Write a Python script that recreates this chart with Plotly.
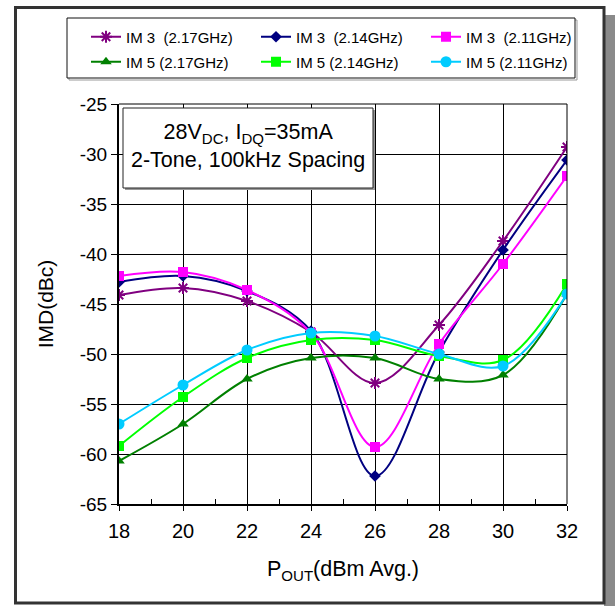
import plotly.graph_objects as go

# ---------------- data ----------------
pout = [18, 20, 22, 24, 26, 28, 30, 32]

im3_217 = [-44.1, -43.4, -44.7, -47.8, -52.9, -47.1, -38.7, -29.3]
im3_214 = [-42.8, -42.2, -43.7, -47.7, -62.2, -49.8, -39.6, -30.6]
im3_211 = [-42.2, -41.8, -43.6, -47.9, -59.3, -49.0, -41.0, -32.2]
im5_217 = [-60.7, -57.0, -52.5, -50.4, -50.4, -52.5, -52.1, -44.0]
im5_214 = [-59.2, -54.3, -50.4, -48.6, -48.6, -50.2, -50.6, -43.0]
im5_211 = [-57.0, -53.1, -49.6, -47.9, -48.2, -50.0, -51.2, -44.0]

series_names = ["IM 3  (2.17GHz)", "IM 3  (2.14GHz)", "IM 3  (2.11GHz)",
                "IM 5 (2.17GHz)", "IM 5 (2.14GHz)", "IM 5 (2.11GHz)"]

x_ticks = [18, 20, 22, 24, 26, 28, 30, 32]
x_ticklabels = ["18", "20", "22", "24", "26", "28", "30", "32"]
x_minor_ticks = [19, 21, 23, 25, 27, 29, 31]
y_ticks = [-65, -60, -55, -50, -45, -40, -35, -30, -25]
y_ticklabels = ["-65", "-60", "-55", "-50", "-45", "-40", "-35", "-30", "-25"]

# ---------------- layout geometry ----------------
W, H = 615, 606
L, R, T, B = 119, 567, 104, 504   # plot area in pixels
PW, PH = R - L, B - T


def px(x):
    return (x - L) / PW


def py(y):
    return (B - y) / PH


FONT = "Liberation Sans, Arial, sans-serif"

fig = go.Figure()

styles = [
    dict(color="#800080", symbol="asterisk-open", size=10),
    dict(color="#000080", symbol="diamond", size=9),
    dict(color="#FF00FF", symbol="square", size=10),
    dict(color="#008000", symbol="triangle-up", size=10),
    dict(color="#00FF00", symbol="square", size=10),
    dict(color="#00CCFF", symbol="circle", size=11),
]
data = [im3_217, im3_214, im3_211, im5_217, im5_214, im5_211]

# legend slot positions (pixels): item left x, row center y
legend_pos = [(86, 37), (256, 37), (426, 37), (86, 62), (256, 62), (426, 62)]
legend_ids = ["legend", "legend2", "legend3", "legend4", "legend5", "legend6"]

legend_layouts = {}
for i, (name, ys, st) in enumerate(zip(series_names, data, styles)):
    lid = legend_ids[i]
    fig.add_trace(go.Scatter(
        x=pout, y=ys, name=name, mode="lines+markers",
        line=dict(color=st["color"], width=2, shape="spline", smoothing=1.0),
        marker=dict(color=st["color"], symbol=st["symbol"], size=st["size"],
                    line=dict(color=st["color"],
                              width=2 if st["symbol"] == "asterisk-open" else 0)),
        legend=lid,
    ))
    lx, ly = legend_pos[i]
    legend_layouts[lid] = dict(
        orientation="h", xref="container", yref="container",
        x=lx / W, y=1 - ly / H, xanchor="left", yanchor="middle",
        bgcolor="rgba(0,0,0,0)", borderwidth=0,
        font=dict(family=FONT, size=15, color="black"))

shapes = []
# outer frame shadow
shapes.append(dict(type="rect", xref="paper", yref="paper",
                   x0=px(604), x1=px(616), y0=py(607), y1=py(15),
                   fillcolor="#8a8a8a", line=dict(width=0), layer="below"))
# outer frame
shapes.append(dict(type="rect", xref="paper", yref="paper",
                   x0=px(15.5), x1=px(604), y0=py(603), y1=py(7.5),
                   line=dict(color="#333333", width=3), layer="below"))
# legend box shadow + box
shapes.append(dict(type="rect", xref="paper", yref="paper",
                   x0=px(69), x1=px(577), y0=py(80), y1=py(20),
                   line=dict(color="#999999", width=1), layer="below"))
shapes.append(dict(type="rect", xref="paper", yref="paper",
                   x0=px(67), x1=px(575), y0=py(78), y1=py(18),
                   fillcolor="white", line=dict(color="#111111", width=1), layer="below"))
# annotation box shadow + box
shapes.append(dict(type="rect", xref="paper", yref="paper",
                   x0=px(125), x1=px(375), y0=py(190), y1=py(110),
                   fillcolor="#999999", line=dict(width=0), layer="above"))
shapes.append(dict(type="rect", xref="paper", yref="paper",
                   x0=px(123), x1=px(373), y0=py(188), y1=py(108),
                   fillcolor="white", line=dict(color="#222222", width=1), layer="above"))
# top and right border grid lines
shapes.append(dict(type="line", xref="paper", yref="paper", x0=0, x1=1, y0=1, y1=1,
                   line=dict(color="black", width=1)))
shapes.append(dict(type="line", xref="paper", yref="paper", x0=1, x1=1, y0=0, y1=1,
                   line=dict(color="black", width=1)))

annotations = [
    dict(xref="paper", yref="paper", x=px(248), y=py(146), xanchor="center", yanchor="middle",
         text="28V<sub>DC</sub>, I<sub>DQ</sub>=35mA<br>2-Tone, 100kHz Spacing",
         showarrow=False, font=dict(family=FONT, size=21.5, color="black"), align="center"),
]

fig.update_layout(
    width=W, height=H,
    margin=dict(l=L, r=W - R, t=T, b=H - B, autoexpand=False),
    paper_bgcolor="white", plot_bgcolor="white",
    font=dict(family=FONT, size=19, color="black"),
    showlegend=True,
    shapes=shapes,
    annotations=annotations,
    xaxis=dict(range=[18, 32], tickmode="array", tickvals=x_ticks, ticktext=x_ticklabels,
               showgrid=True, gridcolor="black", gridwidth=1,
               showline=True, linecolor="black", linewidth=2,
               ticks="outside", ticklen=5, tickcolor="black", tickwidth=1,
               ticklabelstandoff=3,
               minor=dict(tickmode="array", tickvals=x_minor_ticks, ticks="inside",
                          ticklen=5, tickcolor="black", tickwidth=1, showgrid=False),
               zeroline=False, tickfont=dict(size=20),
               title=dict(text="P<sub>OUT</sub>(dBm Avg.)", font=dict(size=21.5), standoff=20)),
    yaxis=dict(range=[-65, -25], tickvals=y_ticks, ticktext=y_ticklabels,
               showgrid=True, gridcolor="black", gridwidth=1,
               showline=True, linecolor="black", linewidth=2,
               ticks="outside", ticklen=6, tickcolor="black", tickwidth=1,
               zeroline=False, tickfont=dict(size=19),
               title=dict(text="IMD(dBc)", font=dict(size=21), standoff=20)),
    **legend_layouts,
)

fig.write_html("out.html", config={"displayModeBar": False},
               post_script="document.body.style.margin='0';")
